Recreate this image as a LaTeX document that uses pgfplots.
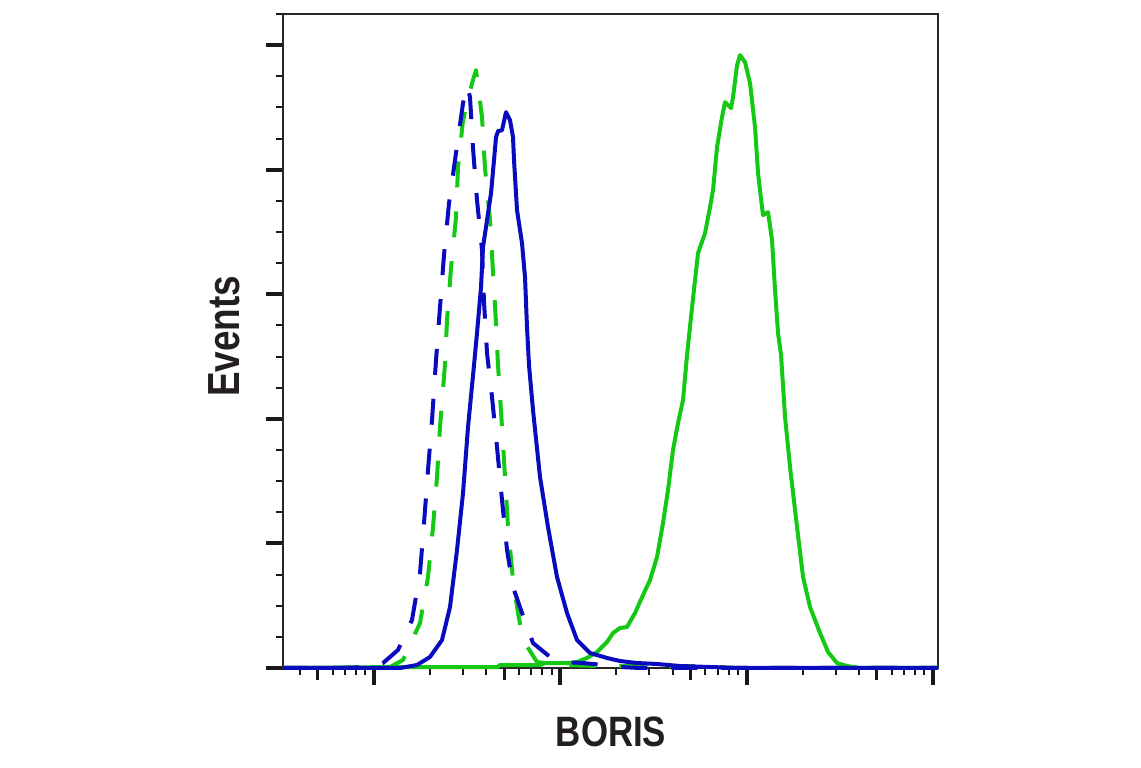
\documentclass[border=0pt]{standalone}
\usepackage{pgfplots}
\pgfplotsset{compat=1.18}
\usepackage{fontspec}
\setmainfont{Liberation Sans}
\newfontfamily\labelfont[FakeStretch=0.82]{Liberation Sans}
\definecolor{flowblue}{RGB}{10,10,190}
\definecolor{flowgreen}{RGB}{20,200,20}
\definecolor{labelgray}{RGB}{35,31,32}

\begin{document}
\begin{tikzpicture}
\path[use as bounding box] (0,0) rectangle (1141pt,768pt);
\begin{axis}[
  at={(283pt,100pt)}, anchor=south west,
  scale only axis, width=655pt, height=654pt,
  xmin=1.5116, xmax=5.0268, ymin=0, ymax=105,
  clip=false,
  axis line style={line width=1.3pt, black!85},
  tick align=outside, xtick pos=bottom, ytick pos=left,
  xtick={2,3,4,5}, xticklabels={},
  minor xtick={1.602,1.778,1.845,1.903,1.954,
               2.301,2.477,2.602,2.778,2.845,2.903,2.954,
               3.301,3.477,3.602,3.778,3.845,3.903,3.954,
               4.301,4.477,4.602,4.778,4.845,4.903,4.954},
  extra x ticks={1.699,2.699,3.699,4.699}, extra x tick labels={},
  extra x tick style={major tick length=12pt, major tick style={line width=3pt, black!90}},
  ytick={0,20,40,60,80,100}, yticklabels={},
  minor ytick={5,10,15,25,30,35,45,50,55,65,70,75,85,90,95,105},
  major tick length=17pt, minor tick length=7pt,
  major tick style={line width=4pt, black!90},
  minor tick style={line width=2pt, black!90},
  xlabel={BORIS}, ylabel={Events},
  xlabel style={at={(axis description cs:0.5008,-0.0979)}, anchor=center,
    font=\labelfont\bfseries\fontsize{42.5}{48}\selectfont, text=labelgray},
  ylabel style={at={(axis description cs:-0.0893,0.5069)}, anchor=center,
    font=\labelfont\bfseries\fontsize{45}{52}\selectfont, text=labelgray},
  every axis plot/.append style={line width=4pt, line join=round},
]

% green, solid
\addplot[flowgreen] coordinates {
(1.5116,0) (2.1395,0.16) (2.6655,0.16) (2.6762,0.48) (2.8909,0.48) (2.9178,0.80)
(3.0519,0.80) (3.0895,0.96) (3.1432,1.61) (3.1968,2.57) (3.2505,4.17) (3.2827,5.62)
(3.3203,6.42) (3.3578,6.58) (3.4008,8.83) (3.4437,11.72) (3.4813,14.12) (3.5188,17.82)
(3.5510,23.27) (3.5778,28.57) (3.6047,34.99) (3.6315,39.32) (3.6584,43.01) (3.6799,50.24)
(3.7013,56.34) (3.7228,62.27) (3.7389,66.61) (3.7765,69.82) (3.8033,73.99) (3.8194,76.72)
(3.8409,83.62) (3.8677,88.44) (3.8838,90.84) (3.9160,89.88) (3.9268,91.65) (3.9483,96.78)
(3.9643,98.39) (3.9912,97.26) (4.0180,93.89) (4.0448,86.83) (4.0609,79.45) (4.0824,73.99)
(4.0878,72.71) (4.1146,73.19) (4.1361,68.69) (4.1522,60.67) (4.1683,53.77) (4.1844,50.24)
(4.2059,40.29) (4.2327,32.26) (4.2703,22.63) (4.3025,14.61) (4.3400,9.79) (4.3937,5.62)
(4.4366,2.57) (4.4849,0.80) (4.5386,0.32) (4.6084,0) (5.0268,0)
};

% green, dashed
\addplot[flowgreen, dash pattern=on 26pt off 24pt] coordinates {
(1.5116,0) (1.9785,0) (2.0859,0.16) (2.1556,1.28) (2.2469,7.22) (2.2898,14.61)
(2.3167,22.63) (2.3381,30.66) (2.3542,38.68) (2.3757,46.71) (2.3811,48.95) (2.3918,55.85)
(2.4133,64.20) (2.4401,72.39) (2.4508,80.41) (2.4777,87.95) (2.5260,93.89) (2.5474,95.98)
(2.5796,88.44) (2.5957,80.25) (2.6226,71.90) (2.6387,63.56) (2.6548,55.37) (2.6655,48.63)
(2.6870,38.68) (2.7031,30.66) (2.7192,22.63) (2.7460,14.12) (2.7728,8.83) (2.7997,4.49)
(2.8748,0.96) (2.9983,0.48) (3.2129,0.32) (3.5349,0.32) (3.8033,0.32) (3.9106,0) (5.0268,0)
};

% blue, dashed
\addplot[flowblue, dash pattern=on 26pt off 24pt] coordinates {
(1.5116,0) (1.8175,0) (1.9785,0.16) (2.0483,0.80) (2.1288,2.89) (2.2039,7.70)
(2.2469,15.25) (2.2684,23.27) (2.2898,31.78) (2.3113,39.80) (2.3328,49.43) (2.3542,57.94)
(2.3757,66.29) (2.4025,74.63) (2.4401,82.66) (2.4777,90.68) (2.4991,93.57) (2.5152,91.65)
(2.5313,83.46) (2.5528,75.11) (2.5796,67.09) (2.5904,58.74) (2.6065,50.56) (2.6333,43.50)
(2.6601,35.47) (2.6870,26.96) (2.7138,18.94) (2.7460,13.00) (2.7943,8.83) (2.8533,4.01)
(2.9446,1.77) (3.0144,0.96) (3.1217,0.80) (3.2290,0.48) (3.3203,0.16) (3.4276,0) (5.0268,0)
};

% blue, solid
\addplot[flowblue] coordinates {
(1.5116,0) (2.1395,0) (2.2308,0.48) (2.3005,1.77) (2.3649,4.49) (2.4079,9.79)
(2.4455,18.94) (2.4777,28.09) (2.5045,38.68) (2.5367,48.63) (2.5528,53.77) (2.5743,61.15)
(2.5850,67.57) (2.6065,71.90) (2.6280,76.24) (2.6440,81.53) (2.6548,85.23) (2.6655,86.19)
(2.6870,86.35) (2.7084,89.24) (2.7299,87.95) (2.7460,85.23) (2.7514,81.53) (2.7675,73.51)
(2.7943,68.21) (2.8104,62.76) (2.8211,54.73) (2.8318,48.63) (2.8533,41.41) (2.8909,30.66)
(2.9338,22.63) (2.9821,14.61) (3.0358,8.83) (3.0895,4.49) (3.1592,2.41) (3.2505,1.61)
(3.3203,1.12) (3.4115,0.80) (3.5188,0.64) (3.6423,0.32) (3.8033,0.16) (3.9643,0) (5.0268,0)
};

\end{axis}
\end{tikzpicture}
\end{document}
